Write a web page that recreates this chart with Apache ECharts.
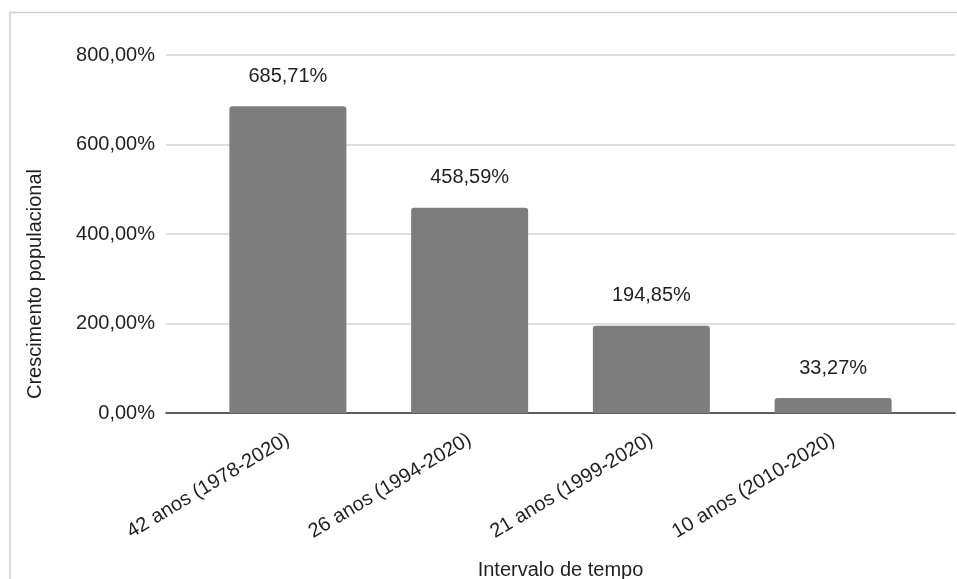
<!DOCTYPE html>
<html>
<head>
<meta charset="utf-8">
<style>
  html, body { margin: 0; padding: 0; background: #fff; }
  #chart { width: 957px; height: 579px; }
</style>
<script src="https://cdn.jsdelivr.net/npm/echarts@6/dist/echarts.min.js"></script>
</head>
<body>
<div id="chart"></div>
<script>
// Population growth per time interval
const categories = [
  '42 anos (1978-2020)',
  '26 anos (1994-2020)',
  '21 anos (1999-2020)',
  '10 anos (2010-2020)'
];
const growth = [685.71, 458.59, 194.85, 33.27];
const yMin = 0;
const yMax = 800;
const yStep = 200;

const FONT = '"Liberation Sans", Arial, sans-serif';
const TEXT = '#1f1f1f';
const fmtPct = v => v.toFixed(2).replace('.', ',') + '%';

const chart = echarts.init(document.getElementById('chart'), null, { renderer: 'canvas' });

chart.setOption({
  backgroundColor: '#ffffff',
  animation: false,
  textStyle: { fontFamily: FONT },
  graphic: [{
    type: 'rect',
    silent: true,
    shape: { x: 10, y: 12.5, width: 960, height: 600 },
    style: { fill: 'none', stroke: '#cfcfcf', lineWidth: 1.5 }
  }],
  grid: [
    // full-width area: value axis labels, gridlines and baseline
    { left: 166, right: 2, top: 55, bottom: 166, containLabel: false, outerBoundsMode: 'none' },
    // bar area
    { left: 197, right: 33, top: 55, bottom: 166, containLabel: false, outerBoundsMode: 'none' }
  ],
  xAxis: [
    {
      gridIndex: 0,
      type: 'category',
      data: categories,
      axisLine: { show: true, lineStyle: { color: '#333333', width: 1.5 } },
      axisTick: { show: false },
      axisLabel: { show: false },
      splitLine: { show: false }
    },
    {
      gridIndex: 1,
      type: 'category',
      data: categories,
      axisLine: { show: false },
      axisTick: { show: false },
      axisLabel: {
        rotate: 31,
        margin: 25,
        color: TEXT,
        fontSize: 20,
        fontFamily: FONT,
        interval: 0
      },
      name: 'Intervalo de tempo',
      nameLocation: 'middle',
      nameGap: 147,
      nameTextStyle: { color: TEXT, fontSize: 20, fontFamily: FONT }
    }
  ],
  yAxis: [
    {
      gridIndex: 0,
      type: 'value',
      min: yMin,
      max: yMax,
      interval: yStep,
      axisLine: { show: false },
      axisTick: { show: false },
      axisLabel: {
        formatter: fmtPct,
        color: TEXT,
        fontSize: 20,
        fontFamily: FONT,
        margin: 11
      },
      splitLine: { show: true, lineStyle: { color: '#d4d4d4', width: 1.5 } },
      name: 'Crescimento populacional',
      nameLocation: 'middle',
      nameGap: 121,
      nameTextStyle: {
        color: TEXT,
        fontSize: 20,
        fontFamily: FONT,
        padding: [0, 100, 0, 0]
      }
    },
    {
      gridIndex: 1,
      type: 'value',
      min: yMin,
      max: yMax,
      interval: yStep,
      show: false,
      splitLine: { show: false }
    }
  ],
  series: [{
    type: 'bar',
    xAxisIndex: 1,
    yAxisIndex: 1,
    data: growth,
    barWidth: 117,
    itemStyle: { color: '#7d7d7d', borderRadius: [3, 3, 0, 0] },
    label: {
      show: true,
      position: 'top',
      distance: 20,
      formatter: p => fmtPct(p.value),
      color: TEXT,
      fontSize: 20,
      fontFamily: FONT
    }
  }]
});
</script>
</body>
</html>
